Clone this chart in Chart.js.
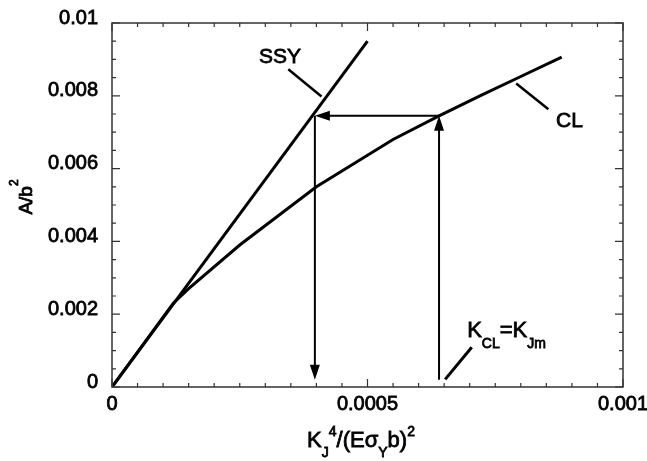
<!DOCTYPE html>
<html>
<head>
<meta charset="utf-8">
<script src="https://cdn.jsdelivr.net/npm/chart.js@4.4.0/dist/chart.umd.min.js"></script>
<style>
html, body { margin: 0; padding: 0; background: #fff; }
#wrap { width: 647px; height: 461px; }
</style>
</head>
<body>
<div id="wrap"><canvas id="chart"></canvas></div>
<script>
// SSY line and CL curve
const ssyX = [0, 0.0005];
const ssyY = [0, 0.0095];
const clX = [0, 0.00012, 0.00015, 0.00025, 0.0004, 0.00055, 0.00064, 0.00072, 0.0008, 0.00088];
const clY = [0, 0.0023, 0.0027, 0.0039, 0.0055, 0.0068, 0.00745, 0.0080, 0.00853, 0.00906];

// leader lines from the labels to the curves
const ssyLeadX = [0.000345, 0.00041];
const ssyLeadY = [0.00873, 0.00798];
const clLeadX = [0.000791, 0.000854];
const clLeadY = [0.00834, 0.00763];
const kLeadX = [0.000652, 0.000704];
const kLeadY = [0.00021, 0.00109];

// arrows: K_CL up to CL, across to SSY, down to the axis
const kclValue = 0.00064;
const kssyValue = 0.000397;
const areaLevel = 0.00745;
const arrowFoot = 0.0002;
const arrows = [
  [kclValue, arrowFoot, kclValue, areaLevel],
  [kclValue, areaLevel, kssyValue, areaLevel],
  [kssyValue, areaLevel, kssyValue, arrowFoot]
];

const xTicks = [0, 0.0005, 0.001];
const xTickLabels = ['0', '0.0005', '0.001'];
const yTicks = [0, 0.002, 0.004, 0.006, 0.008, 0.01];
const yTickLabels = ['0', '0.002', '0.004', '0.006', '0.008', '0.01'];
const xMinorStep = 0.00005;
const yMinorStep = 0.0005;

const FONT = '"Liberation Sans", Arial, Helvetica, sans-serif';
const INK = 0.8; // outline on text so it reads a little heavier than regular

function pts(xs, ys) { return xs.map((x, i) => ({ x: x, y: ys[i] })); }

function lineSet(xs, ys, w) {
  return { data: pts(xs, ys), showLine: true, borderColor: '#000', borderWidth: w,
           pointRadius: 0, tension: 0, fill: false };
}

// text with sub/superscripts, pieces = [text, size, dy]
function drawRich(ctx, pieces, x, y, align) {
  let total = 0;
  pieces.forEach(p => {
    ctx.font = p[1] + 'px ' + FONT;
    total += ctx.measureText(p[0]).width;
  });
  let cx = align === 'center' ? x - total / 2 : x;
  ctx.textAlign = 'left';
  ctx.textBaseline = 'alphabetic';
  ctx.lineWidth = INK;
  ctx.strokeStyle = '#000';
  pieces.forEach(p => {
    ctx.font = p[1] + 'px ' + FONT;
    ctx.fillText(p[0], cx, y + p[2]);
    ctx.strokeText(p[0], cx, y + p[2]);
    cx += ctx.measureText(p[0]).width;
  });
}

function arrowHead(ctx, x0, y0, x1, y1) {
  const ang = Math.atan2(y1 - y0, x1 - x0);
  const len = 15, half = 5;
  ctx.beginPath();
  ctx.moveTo(x1, y1);
  ctx.lineTo(x1 - len * Math.cos(ang) + half * Math.sin(ang), y1 - len * Math.sin(ang) - half * Math.cos(ang));
  ctx.lineTo(x1 - len * Math.cos(ang) - half * Math.sin(ang), y1 - len * Math.sin(ang) + half * Math.cos(ang));
  ctx.closePath();
  ctx.fill();
}

const decor = {
  id: 'decor',
  afterDatasetsDraw(chart) {
    const { ctx, chartArea: a, scales: { x, y } } = chart;
    ctx.save();
    ctx.fillStyle = '#000';
    ctx.strokeStyle = '#000';

    // arrows
    ctx.lineWidth = 2;
    arrows.forEach(r => {
      const x0 = x.getPixelForValue(r[0]), y0 = y.getPixelForValue(r[1]);
      const x1 = x.getPixelForValue(r[2]), y1 = y.getPixelForValue(r[3]);
      const ang = Math.atan2(y1 - y0, x1 - x0);
      ctx.beginPath();
      ctx.moveTo(x0, y0);
      ctx.lineTo(x1 - 12 * Math.cos(ang), y1 - 12 * Math.sin(ang));
      ctx.stroke();
      arrowHead(ctx, x0, y0, x1, y1);
    });

    // frame
    ctx.strokeStyle = '#333';
    ctx.lineWidth = 1.5;
    ctx.strokeRect(a.left, a.top, a.right - a.left, a.bottom - a.top);

    // inward ticks on all four sides
    ctx.lineWidth = 1.2;
    ctx.beginPath();
    for (let i = 0; i <= 20; i++) {
      const px = x.getPixelForValue(i * xMinorStep);
      const len = i % 10 === 0 ? 8 : 4;
      ctx.moveTo(px, a.bottom); ctx.lineTo(px, a.bottom - len);
      ctx.moveTo(px, a.top); ctx.lineTo(px, a.top + len);
    }
    for (let i = 0; i <= 20; i++) {
      const py = y.getPixelForValue(i * yMinorStep);
      const len = i % 4 === 0 ? 8 : 4;
      ctx.moveTo(a.left, py); ctx.lineTo(a.left + len, py);
      ctx.moveTo(a.right, py); ctx.lineTo(a.right - len, py);
    }
    ctx.stroke();

    // curve labels
    ctx.fillStyle = '#000';
    drawRich(ctx, [['SSY', 21, 0]], x.getPixelForValue(0.000329), y.getPixelForValue(0.00889), 'center');
    drawRich(ctx, [['CL', 21, 0]], x.getPixelForValue(0.000869), y.getPixelForValue(0.00715), 'left');
    drawRich(ctx, [['K', 22, 0], ['CL', 14, 11], ['=K', 22, 0], ['Jm', 14, 11]],
             x.getPixelForValue(0.000695), y.getPixelForValue(0.001365), 'left');

    // axis titles
    drawRich(ctx, [['K', 22, 0], ['J', 14, 10], ['4', 14, -11], ['/(E\u03c3', 22, 0], ['Y', 14, 10],
                   ['b)', 22, 0], ['2', 14, -11]], 361, 447, 'center');
    ctx.translate(32, 197);
    ctx.rotate(-Math.PI / 2);
    drawRich(ctx, [['A/b', 19, 0], ['2', 12, -14]], 0, 0, 'center');
    ctx.restore();
  }
};

new Chart(document.getElementById('chart').getContext('2d'), {
  type: 'scatter',
  data: {
    datasets: [
      lineSet(ssyX, ssyY, 3),
      lineSet(clX, clY, 3),
      lineSet(ssyLeadX, ssyLeadY, 2.5),
      lineSet(clLeadX, clLeadY, 2.5),
      lineSet(kLeadX, kLeadY, 3)
    ]
  },
  options: {
    responsive: true,
    maintainAspectRatio: false,
    animation: false,
    layout: { padding: { left: 0, top: 23, right: 24, bottom: 0 } },
    plugins: { legend: { display: false }, tooltip: { enabled: false } },
    scales: {
      x: {
        type: 'linear', min: 0, max: 0.001,
        afterBuildTicks: s => { s.ticks = xTicks.map(v => ({ value: v })); },
        afterFit: s => { s.height = 74; s.paddingLeft = 0; s.paddingRight = 0; },
        grid: { display: false, drawTicks: false },
        border: { display: false },
        ticks: {
          color: '#000', padding: 5, maxRotation: 0, autoSkip: false,
          textStrokeColor: '#000', textStrokeWidth: INK,
          font: { family: FONT, size: 20 },
          callback: v => xTickLabels[xTicks.indexOf(v)]
        }
      },
      y: {
        type: 'linear', min: 0, max: 0.01,
        afterBuildTicks: s => { s.ticks = yTicks.map(v => ({ value: v })); },
        afterFit: s => { s.width = 112; s.paddingTop = 0; s.paddingBottom = 0; },
        grid: { display: false, drawTicks: false },
        border: { display: false },
        ticks: {
          color: '#000', padding: 14, autoSkip: false, labelOffset: -5,
          textStrokeColor: '#000', textStrokeWidth: INK,
          font: { family: FONT, size: 20 },
          callback: v => yTickLabels[yTicks.indexOf(v)]
        }
      }
    }
  },
  plugins: [decor]
});
</script>
</body>
</html>
